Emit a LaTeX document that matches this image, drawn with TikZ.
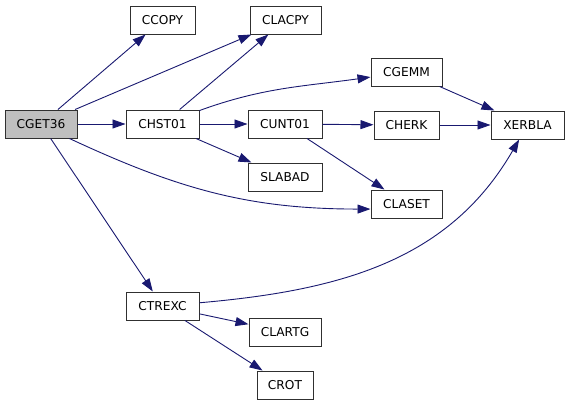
\documentclass[tikz,border=0pt]{standalone}
\usepackage{fontspec}
\setmainfont{DejaVu Sans}
\usetikzlibrary{arrows.meta}
\definecolor{edgecol}{HTML}{191970}
\definecolor{boxline}{HTML}{303030}
\tikzset{
  fn/.style={draw=boxline, line width=1pt, fill=white, inner sep=0pt, minimum height=28pt, font=\fontsize{12.2pt}{14pt}\selectfont, text=black},
  root/.style={fn, fill=black!25},
  call/.style={draw=edgecol, line width=0.9pt, -{Triangle[length=13pt,width=9pt]}}
}
\begin{document}
\begin{tikzpicture}[x=1pt,y=1pt]
\useasboundingbox (0,0) rectangle (571,-405);
\node[root, minimum width=72pt] (cget36) at (41,-124) {CGET36};
\node[fn, minimum width=65pt] (ccopy) at (162.5,-20) {CCOPY};
\node[fn, minimum width=71pt] (clacpy) at (285.5,-20) {CLACPY};
\node[fn, minimum width=73pt] (chst01) at (162.5,-124) {CHST01};
\node[fn, minimum width=74pt] (cunt01) at (285,-124) {CUNT01};
\node[fn, minimum width=74pt] (slabad) at (285,-177) {SLABAD};
\node[fn, minimum width=71pt] (cgemm) at (406.5,-72) {CGEMM};
\node[fn, minimum width=65pt] (cherk) at (406.5,-125) {CHERK};
\node[fn, minimum width=73pt] (xerbla) at (527.5,-125) {XERBLA};
\node[fn, minimum width=71pt] (claset) at (406.5,-204) {CLASET};
\node[fn, minimum width=73pt] (ctrexc) at (162.5,-306) {CTREXC};
\node[fn, minimum width=72pt] (clartg) at (285,-332) {CLARTG};
\node[fn, minimum width=56pt] (crot) at (285,-385) {CROT};

\draw[call] (cget36) -- (ccopy);
\draw[call] (cget36) -- (clacpy);
\draw[call] (cget36) -- (chst01);
\draw[call] (cget36.-27) to[out=-25,in=180] (claset.188);
\draw[call] (cget36) -- (ctrexc);
\draw[call] (chst01) -- (clacpy);
\draw[call] (chst01) to[out=20,in=188] (cgemm);
\draw[call] (chst01) -- (cunt01);
\draw[call] (chst01) -- (slabad);
\draw[call] (cunt01) -- (cherk);
\draw[call] (cunt01) -- (claset);
\draw[call] (cgemm) -- (xerbla);
\draw[call] (cherk) -- (xerbla);
\draw[call] (ctrexc) to[out=5,in=240] (xerbla);
\draw[call] (ctrexc) -- (clartg);
\draw[call] (ctrexc) -- (crot);
\end{tikzpicture}
\end{document}
